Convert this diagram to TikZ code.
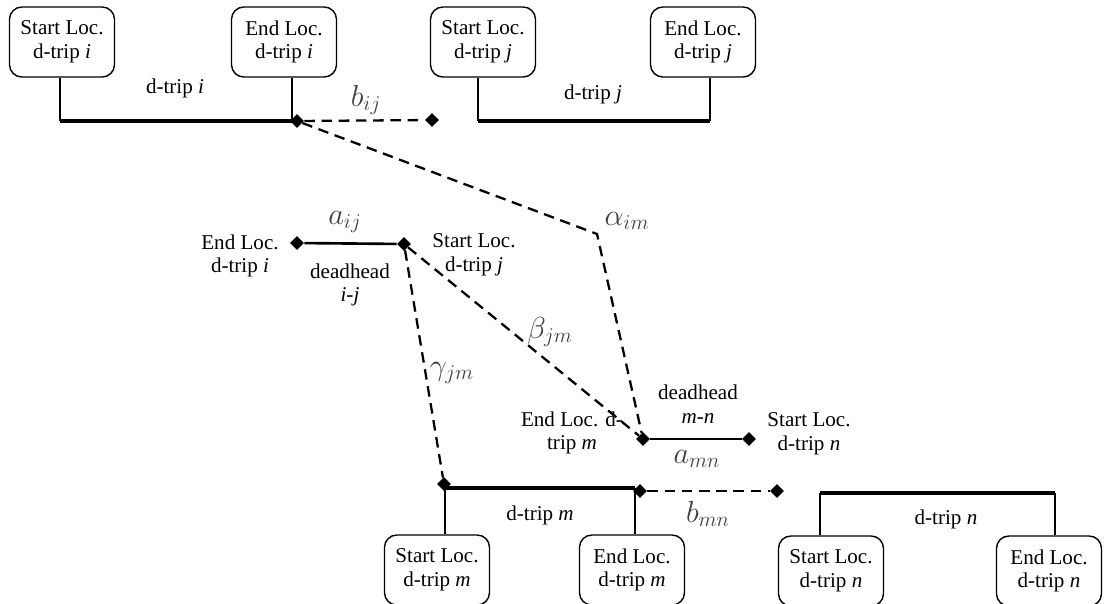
\documentclass[tikz,border=0pt]{standalone}
\usepackage{fontspec}
\setmainfont{Liberation Serif}
\usetikzlibrary{shapes.geometric, positioning}

\begin{document}
\begin{tikzpicture}[
    x=0.02cm, y=-0.02cm,
    font=\fontsize{12}{13.5}\selectfont,
    locbox/.style={rectangle, draw, line width=0.8pt, rounded corners=7pt, minimum width=2.1cm, minimum height=1.4cm, align=center, inner sep=2pt},
    lbl/.style={align=center, inner sep=1pt},
    cost/.style={font=\fontsize{17}{20}\selectfont, text=black!75, inner sep=1pt},
    knot/.style={diamond, fill, inner sep=0pt, minimum size=0.28cm},
    stem/.style={line width=0.8pt},
    trip/.style={line width=2.8pt},
    dh/.style={line width=1.5pt},
    link/.style={line width=1.3pt, dash pattern=on 6pt off 3.8pt},
]
    \useasboundingbox (0,0) rectangle (1106,603);

    % location boxes
    \node[locbox] (startI) at (62,42)   {Start Loc.\\d-trip \textit{i}};
    \node[locbox] (endI)   at (284,42)  {End Loc.\\d-trip \textit{i}};
    \node[locbox] (startJ) at (483,42)  {Start Loc.\\d-trip \textit{j}};
    \node[locbox] (endJ)   at (703,42)  {End Loc.\\d-trip \textit{j}};
    \node[locbox] (startM) at (437,570) {Start Loc.\\d-trip \textit{m}};
    \node[locbox] (endM)   at (632,570) {End Loc.\\d-trip \textit{m}};
    \node[locbox] (startN) at (831,571) {Start Loc.\\d-trip \textit{n}};
    \node[locbox] (endN)   at (1049,571) {End Loc.\\d-trip \textit{n}};

    % d-trip bars
    \coordinate (iA) at (60,121);  \coordinate (iB) at (292,121);
    \coordinate (jA) at (478,121); \coordinate (jB) at (710,121);
    \coordinate (mA) at (445,488); \coordinate (mB) at (635,488);
    \coordinate (nA) at (820,493); \coordinate (nB) at (1055,493);
    \draw[stem] (iA) -- (iA |- startI.south);
    \draw[stem] (iB) -- (iB |- endI.south);
    \draw[stem] (jA) -- (jA |- startJ.south);
    \draw[stem] (jB) -- (jB |- endJ.south);
    \draw[stem] (mA) -- (mA |- startM.north);
    \draw[stem] (mB) -- (mB |- endM.north);
    \draw[stem] (nA) -- (nA |- startN.north);
    \draw[stem] (nB) -- (nB |- endN.north);
    \draw[trip] (iA) -- (iB);
    \draw[trip] (jA) -- (jB);
    \draw[trip] (mA) -- (mB);
    \draw[trip] (nA) -- (nB);

    \node[lbl] (tripI) at (175,88)  {d-trip \textit{i}};
    \node[lbl] (tripJ) at (593,94)  {d-trip \textit{j}};
    \node[lbl] (tripM) at (540,515) {d-trip \textit{m}};
    \node[lbl] (tripN) at (946,519) {d-trip \textit{n}};

    % diamonds
    \node[knot] (iEnd)   at (297,121) {};
    \node[knot] (bijEnd) at (432,120) {};
    \node[knot] (dhIjA)  at (297,243) {};
    \node[knot] (dhIjB)  at (404,244) {};
    \node[knot] (dhMnA)  at (643,439) {};
    \node[knot] (dhMnB)  at (749,439) {};
    \node[knot] (mStart) at (444,484) {};
    \node[knot] (mEnd)   at (640,491) {};
    \node[knot] (bmnEnd) at (777,491) {};
    \coordinate (alphaBend) at (597,234);

    % deadheads
    \draw[dh] (dhIjA) -- (dhIjB);
    \draw[dh] (dhMnA) -- (dhMnB);
    \node[lbl] (endLocI)   at (240,256) {End Loc.\\d-trip \textit{i}};
    \node[lbl] (dhIj)      at (350,285) {deadhead\\\textit{i-j}};
    \node[lbl] (startLocJ) at (474,255) {Start Loc.\\d-trip \textit{j}};
    \node[lbl] (dhMn)      at (698,404) {deadhead\\\textit{m-n}};
    \node[lbl] (endLocM)   at (572,433) {End Loc. d-\\trip \textit{m}};
    \node[lbl] (startLocN) at (809,434) {Start Loc.\\d-trip \textit{n}};

    % dashed links
    \draw[link] (iEnd) -- (bijEnd);
    \draw[link] (iEnd) -- (alphaBend) -- (dhMnA);
    \draw[link] (dhIjB) -- (dhMnA);
    \draw[link] (dhIjB) -- (mStart);
    \draw[link] (mEnd) -- (bmnEnd);

    % cost labels
    \node[cost] (bij)   at (366,100) {$b_{ij}$};
    \node[cost] (aij)   at (345,222) {$a_{ij}$};
    \node[cost] (alpha) at (627,221) {$\alpha_{im}$};
    \node[cost] (beta)  at (550,332) {$\beta_{jm}$};
    \node[cost] (gamma) at (452,373) {$\gamma_{jm}$};
    \node[cost] (amn)   at (697,459) {$a_{mn}$};
    \node[cost] (bmn)   at (708,514) {$b_{mn}$};
\end{tikzpicture}
\end{document}
